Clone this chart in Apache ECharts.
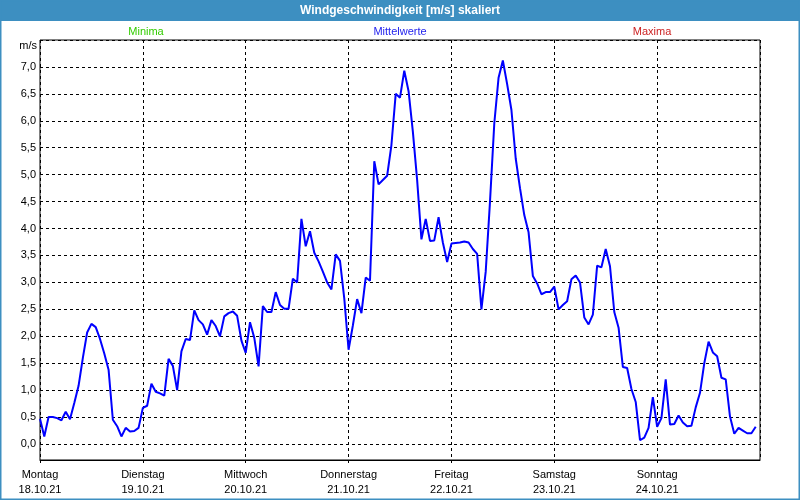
<!DOCTYPE html>
<html>
<head>
<meta charset="utf-8">
<script src="https://cdn.jsdelivr.net/npm/echarts@6/dist/echarts.min.js"></script>
<style>
  html, body { margin: 0; padding: 0; background: #ffffff; }
  #chart { width: 800px; height: 500px; }
</style>
</head>
<body>
<div id="chart"></div>
<script>
// Wochentage und Datum je Tagesgrenze
var days = ['Montag', 'Dienstag', 'Mittwoch', 'Donnerstag', 'Freitag', 'Samstag', 'Sonntag'];
var dates = ['18.10.21', '19.10.21', '20.10.21', '21.10.21', '22.10.21', '23.10.21', '24.10.21'];

// Stundenmittel Windgeschwindigkeit [m/s], ab 18.10.21 00:00
var meanValues = [
  0.47, 0.14, 0.50, 0.50, 0.48, 0.44, 0.60, 0.46, 0.76, 1.08, 1.60, 2.07,
  2.23, 2.17, 1.95, 1.68, 1.38, 0.45, 0.33, 0.14, 0.30, 0.23, 0.24, 0.30,
  0.67, 0.71, 1.12, 0.97, 0.94, 0.90, 1.58, 1.45, 1.00, 1.72, 1.95, 1.93,
  2.48, 2.30, 2.22, 2.03, 2.30, 2.19, 2.00, 2.37, 2.43, 2.46, 2.38, 1.92,
  1.69, 2.26, 1.97, 1.44, 2.56, 2.45, 2.45, 2.82, 2.58, 2.51, 2.51, 3.07,
  3.00, 4.18, 3.67, 3.95, 3.55, 3.39, 3.20, 3.00, 2.87, 3.52, 3.40, 2.70,
  1.75, 2.20, 2.69, 2.43, 3.09, 3.03, 5.25, 4.82, 4.90, 4.98, 5.55, 6.50,
  6.43, 6.93, 6.55, 5.80, 4.90, 3.80, 4.18, 3.77, 3.78, 4.21, 3.74, 3.38,
  3.72, 3.73, 3.74, 3.76, 3.74, 3.62, 3.53, 2.50, 3.20, 4.50, 5.95, 6.80,
  7.12, 6.68, 6.20, 5.30, 4.75, 4.25, 3.93, 3.12, 2.98, 2.78, 2.82, 2.82,
  2.92, 2.50, 2.58, 2.65, 3.06, 3.13, 3.00, 2.35, 2.22, 2.40, 3.31, 3.28,
  3.62, 3.30, 2.45, 2.16, 1.43, 1.41, 1.02, 0.78, 0.07, 0.12, 0.30, 0.87,
  0.32, 0.48, 1.20, 0.36, 0.37, 0.53, 0.40, 0.33, 0.34, 0.68, 0.95, 1.50,
  1.90, 1.70, 1.63, 1.23, 1.20, 0.51, 0.19, 0.30, 0.25, 0.20, 0.20, 0.32
];

var legendNames = ['Minima', 'Mittelwerte', 'Maxima'];

var font = 'Liberation Sans';
var chart = echarts.init(document.getElementById('chart'));

function fmt(v) {
  return v.toFixed(1).replace('.', ',');
}

var option = {
  animation: false,
  backgroundColor: '#ffffff',
  textStyle: { fontFamily: font },
  graphic: [
    { type: 'rect', shape: { x: 0, y: 0, width: 800, height: 21 }, style: { fill: '#3d8fc1' } },
    { type: 'rect', shape: { x: 0.5, y: 0.5, width: 799, height: 499 }, style: { fill: 'none', stroke: '#3d8fc1', lineWidth: 2 } },
    { type: 'text', x: 400, y: 11, style: { text: 'Windgeschwindigkeit [m/s] skaliert', fill: '#ffffff', font: 'bold 12px ' + font, textAlign: 'center', textVerticalAlign: 'middle' } },
    { type: 'text', x: 146, y: 32, style: { text: legendNames[0], fill: '#33cc00', font: '11px ' + font, textAlign: 'center', textVerticalAlign: 'middle' } },
    { type: 'text', x: 400, y: 32, style: { text: legendNames[1], fill: '#2222ee', font: '11px ' + font, textAlign: 'center', textVerticalAlign: 'middle' } },
    { type: 'text', x: 652, y: 32, style: { text: legendNames[2], fill: '#cc2222', font: '11px ' + font, textAlign: 'center', textVerticalAlign: 'middle' } },
    { type: 'text', x: 37, y: 46, style: { text: 'm/s', fill: '#000000', font: '11px ' + font, textAlign: 'right', textVerticalAlign: 'middle' } }
  ],
  grid: [
    // Rahmen + Tagesachse
    { left: 40, top: 40, width: 720, height: 420, show: true, borderColor: '#000000', borderWidth: 1, backgroundColor: 'transparent' },
    // Werteachse (0 .. 7,5)
    { left: 40, top: 40, width: 720, height: 404 }
  ],
  xAxis: [{
    gridIndex: 0,
    type: 'value',
    min: 0,
    max: 168,
    interval: 24,
    axisLine: { show: true, lineStyle: { color: '#000000', width: 1 } },
    axisTick: { show: true, length: 3, lineStyle: { color: '#000000' } },
    axisLabel: {
      color: '#000000',
      fontSize: 11,
      fontFamily: font,
      lineHeight: 15,
      margin: 7,
      showMaxLabel: false,
      formatter: function (v) {
        var i = Math.round(v / 24);
        if (i >= days.length) return '';
        return days[i] + '\n' + dates[i];
      }
    },
    splitLine: { show: true, lineStyle: { color: '#000000', type: [3, 3], width: 1 } }
  }, {
    gridIndex: 1,
    type: 'value',
    min: 0,
    max: 168,
    show: false
  }],
  yAxis: [{
    gridIndex: 0,
    type: 'value',
    min: 0,
    max: 1,
    show: false
  }, {
    gridIndex: 1,
    type: 'value',
    min: 0,
    max: 7.5,
    interval: 0.5,
    axisLine: { show: false },
    axisTick: { show: false },
    axisLabel: {
      color: '#000000',
      fontSize: 11,
      fontFamily: font,
      margin: 4,
      showMaxLabel: false,
      formatter: function (v) {
        return v > 7.01 ? '' : fmt(v);
      }
    },
    splitLine: { show: true, lineStyle: { color: '#000000', type: [3, 3], width: 1 } }
  }],
  series: [{
    name: legendNames[1],
    type: 'line',
    xAxisIndex: 1,
    yAxisIndex: 1,
    showSymbol: false,
    symbol: 'none',
    lineStyle: { color: '#0000ff', width: 2 },
    itemStyle: { color: '#0000ff' },
    data: meanValues.map(function (v, i) { return [i, v]; })
  }]
};

chart.setOption(option);
</script>
</body>
</html>
